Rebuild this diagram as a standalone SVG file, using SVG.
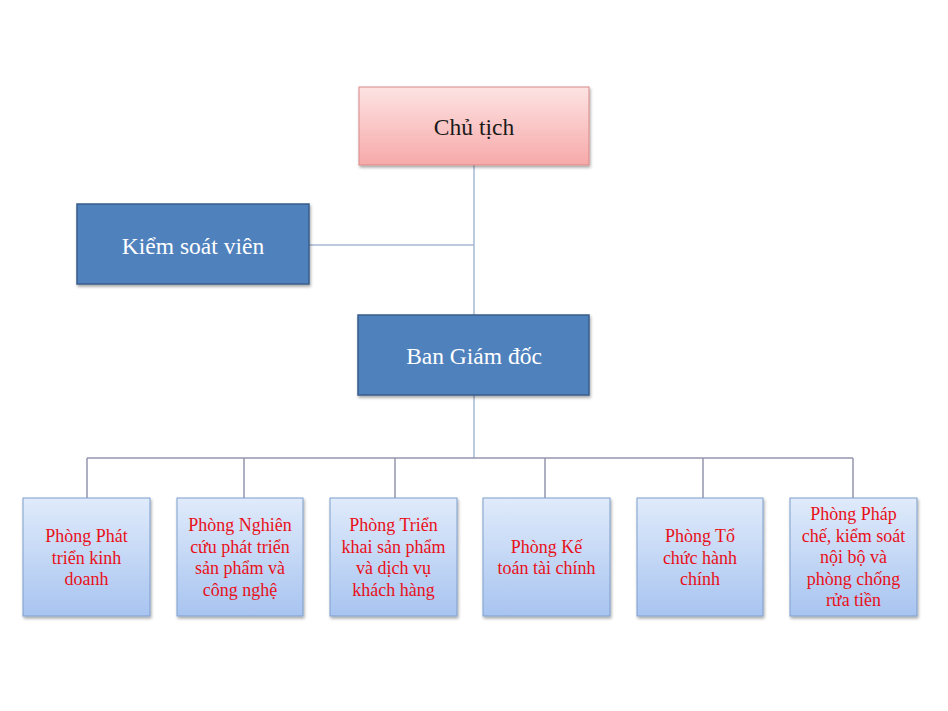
<svg xmlns="http://www.w3.org/2000/svg" width="948" height="711" viewBox="0 0 948 711">
<defs>
<linearGradient id="gPink" x1="0" y1="0" x2="0" y2="1">
<stop offset="0" stop-color="#fde3e3"/>
<stop offset="1" stop-color="#f7a9a9"/>
</linearGradient>
<linearGradient id="gBlue" x1="0" y1="0" x2="0" y2="1">
<stop offset="0" stop-color="#e0ebfb"/>
<stop offset="1" stop-color="#a8c4f0"/>
</linearGradient>
<filter id="sh" x="-10%" y="-10%" width="125%" height="130%">
<feDropShadow dx="1" dy="2" stdDeviation="1.5" flood-color="#000" flood-opacity="0.35"/>
</filter>
<style>
.pink{fill:url(#gPink);stroke:#d88a88;stroke-width:1}
.dark{fill:#4f81bd;stroke:#385d8a;stroke-width:1.5}
.light{fill:url(#gBlue);stroke:#7f9fcc;stroke-width:1}
.t{font-family:"Liberation Serif","Times New Roman",serif;text-anchor:middle}
.big{font-size:23.5px}
.w{fill:#ffffff}
.k{fill:#1a1a1a}
.r{fill:#e8101a;font-size:18px}
.c1{stroke:#a6b8d2;stroke-width:1.5;fill:none}
.c2{stroke:#9494ae;stroke-width:1.5;fill:none}
</style>
</defs>
<rect width="948" height="711" fill="#ffffff"/>
<g id="connectors">
<line class="c1" x1="474" y1="165" x2="474" y2="315"/>
<line class="c1" x1="309" y1="245" x2="474" y2="245"/>
<line class="c1" x1="474" y1="395" x2="474" y2="458"/>
<line class="c2" x1="87" y1="458" x2="853" y2="458"/>
<line class="c2" x1="87" y1="458" x2="87" y2="498"/>
<line class="c2" x1="244" y1="458" x2="244" y2="498"/>
<line class="c2" x1="395" y1="458" x2="395" y2="498"/>
<line class="c2" x1="545" y1="458" x2="545" y2="498"/>
<line class="c2" x1="703" y1="458" x2="703" y2="498"/>
<line class="c2" x1="853" y1="458" x2="853" y2="498"/>
</g>
<g id="chu-tich">
<rect class="pink" x="359" y="87" width="230" height="78" filter="url(#sh)"/>
<text class="t big k" x="474" y="135">Chủ tịch</text>
</g>
<g id="kiem-soat-vien">
<rect class="dark" x="77" y="204" width="232" height="80" filter="url(#sh)"/>
<text class="t big w" x="193" y="254">Kiểm soát viên</text>
</g>
<g id="ban-giam-doc">
<rect class="dark" x="358" y="315" width="231" height="80" filter="url(#sh)"/>
<text class="t big w" x="474" y="364">Ban Giám đốc</text>
</g>
<g id="phong-1">
<rect class="light" x="23" y="498" width="127" height="118" filter="url(#sh)"/>
<text class="t r" x="86.5" y="542">Phòng Phát</text>
<text class="t r" x="86.5" y="563.5">triển kinh</text>
<text class="t r" x="86.5" y="585">doanh</text>
</g>
<g id="phong-2">
<rect class="light" x="177" y="498" width="126" height="118" filter="url(#sh)"/>
<text class="t r" x="240" y="531">Phòng Nghiên</text>
<text class="t r" x="240" y="552.5">cứu phát triển</text>
<text class="t r" x="240" y="574">sản phẩm và</text>
<text class="t r" x="240" y="595.5">công nghệ</text>
</g>
<g id="phong-3">
<rect class="light" x="330" y="498" width="127" height="118" filter="url(#sh)"/>
<text class="t r" x="393.5" y="531">Phòng Triển</text>
<text class="t r" x="393.5" y="552.5">khai sản phẩm</text>
<text class="t r" x="393.5" y="574">và dịch vụ</text>
<text class="t r" x="393.5" y="595.5">khách hàng</text>
</g>
<g id="phong-4">
<rect class="light" x="483" y="498" width="127" height="118" filter="url(#sh)"/>
<text class="t r" x="546.5" y="552.5">Phòng Kế</text>
<text class="t r" x="546.5" y="574">toán tài chính</text>
</g>
<g id="phong-5">
<rect class="light" x="637" y="498" width="126" height="118" filter="url(#sh)"/>
<text class="t r" x="700" y="542">Phòng Tổ</text>
<text class="t r" x="700" y="563.5">chức hành</text>
<text class="t r" x="700" y="585">chính</text>
</g>
<g id="phong-6">
<rect class="light" x="790" y="498" width="127" height="118" filter="url(#sh)"/>
<text class="t r" x="853.5" y="520">Phòng Pháp</text>
<text class="t r" x="853.5" y="541.5">chế, kiểm soát</text>
<text class="t r" x="853.5" y="563">nội bộ và</text>
<text class="t r" x="853.5" y="584.5">phòng chống</text>
<text class="t r" x="853.5" y="606">rửa tiền</text>
</g>
</svg>
